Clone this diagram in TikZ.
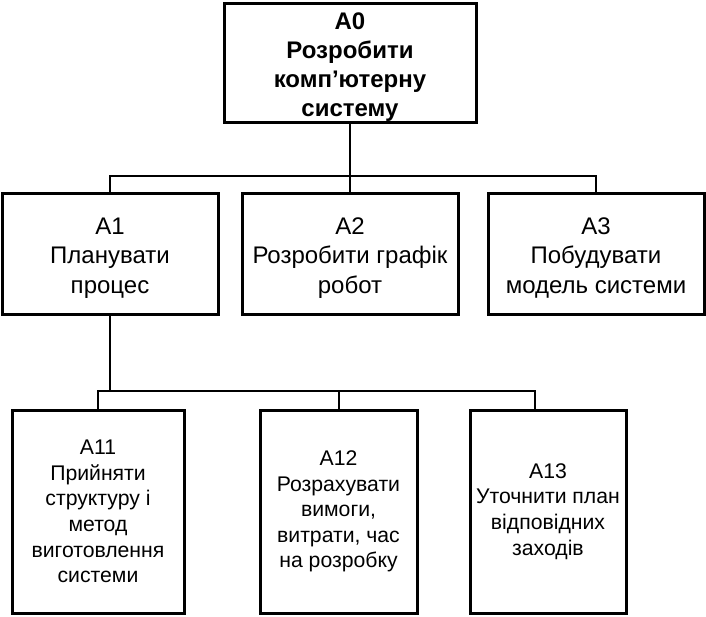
\documentclass[tikz,border=0pt]{standalone}
\usepackage{fontspec}
\setmainfont{Liberation Sans}
\newcommand{\mystrutup}{\rule{0pt}{25.5pt}}
\begin{document}
\begin{tikzpicture}[x=1pt,y=-1pt,
  box/.style={draw=black,line width=3pt,inner sep=0pt,align=center,anchor=center},
  topbox/.style={box,font=\fontsize{24}{29}\selectfont\bfseries},
  midbox/.style={box,font=\fontsize{24}{29.7}\selectfont},
  lowbox/.style={box,font=\fontsize{21.2}{25.6}\selectfont},
  upline/.style={draw=black,line width=2.8pt},
  lowline/.style={draw=black,line width=2pt}]
\useasboundingbox (0,0) rectangle (706,616);
\node[topbox,minimum width=252pt,minimum height=119pt] (a0) at (350,62.5)
  {\mystrutup A0\\Розробити\\комп’ютерну\\систему};
\node[midbox,minimum width=216pt,minimum height=121pt] (a1) at (110,253.5)
  {\mystrutup A1\\Планувати\\процес};
\node[midbox,minimum width=216pt,minimum height=121pt] (a2) at (350,253.5)
  {\mystrutup A2\\Розробити графік\\робот};
\node[midbox,minimum width=216pt,minimum height=121pt] (a3) at (596,253.5)
  {\mystrutup A3\\Побудувати\\модель системи};
\node[lowbox,minimum width=172pt,minimum height=203pt] (a11) at (98,511.5)
  {A11\\Прийняти\\структуру і\\метод\\виготовлення\\системи};
\node[lowbox,minimum width=157pt,minimum height=203pt] (a12) at (338.5,511.5)
  {A12\\Розрахувати\\вимоги,\\витрати, час\\на розробку};
\node[lowbox,minimum width=156pt,minimum height=203pt] (a13) at (548,511.5)
  {A13\\Уточнити план\\відповідних\\заходів};
\coordinate (bus1) at (350,176);
\coordinate (bus2) at (110,391);
\coordinate (a13in) at (535,410);
\draw[upline] (a0.south) -- (a2.north);
\draw[upline] (a1.north) -- (a1.north |- bus1) -- (a3.north |- bus1) -- (a3.north);
\draw[lowline] (a1.south) -- (bus2);
\draw[lowline] (a11.north) -- (a11.north |- bus2) -- (a13in |- bus2) -- (a13in);
\draw[lowline] (a12.north) -- (a12.north |- bus2);
\end{tikzpicture}
\end{document}
